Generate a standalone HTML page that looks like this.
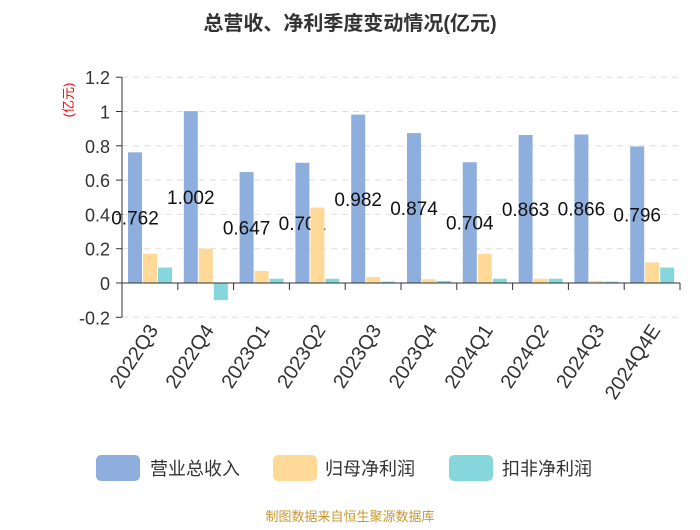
<!DOCTYPE html>
<html><head><meta charset="utf-8"><style>
body{margin:0;background:#fff;width:700px;height:525px;overflow:hidden;font-family:"Liberation Sans","Noto Sans CJK SC",sans-serif}
</style></head><body>
<svg id="chart" width="700" height="525" xmlns="http://www.w3.org/2000/svg" font-family="Liberation Sans, Noto Sans CJK SC, sans-serif">
<text x="350" y="30" text-anchor="middle" font-size="20" font-weight="bold" fill="#333">总营收、净利季度变动情况(亿元)</text>
<text transform="translate(73,100) rotate(-90)" text-anchor="middle" font-size="13" fill="#e00">(亿元)</text>
<g id="grid"></g><g id="bars1"></g><g id="labels"></g><g id="bars23"></g><g id="axes"></g>
<g>
<rect x="96" y="455" width="44" height="26" rx="5" fill="#8eaedd"/>
<text x="150" y="475" font-size="18" fill="#333">营业总收入</text>
<rect x="273" y="455" width="44" height="26" rx="5" fill="#fed998"/>
<text x="325" y="475" font-size="18" fill="#333">归母净利润</text>
<rect x="449" y="455" width="44" height="26" rx="5" fill="#86d7db"/>
<text x="502" y="475" font-size="18" fill="#333">扣非净利润</text>
</g>
<text x="350" y="521" text-anchor="middle" font-size="13" fill="#c9982f">制图数据来自恒生聚源数据库</text>
</svg>
<script>
const categories=["2022Q3","2022Q4","2023Q1","2023Q2","2023Q3","2023Q4","2024Q1","2024Q2","2024Q3","2024Q4E"];
const revenue=[0.762,1.002,0.647,0.701,0.982,0.874,0.704,0.863,0.866,0.796];
const netProfit=[0.17,0.2,0.07,0.44,0.035,0.022,0.17,0.025,0.012,0.12];
const deductedProfit=[0.09,-0.1,0.025,0.025,0.008,0.012,0.025,0.025,0.008,0.09];
const yTicks=[-0.2,0,0.2,0.4,0.6,0.8,1,1.2];
const NS="http://www.w3.org/2000/svg";
const X0=122,X1=680,Y0=283,PPU=171.5;
const bw=(X1-X0)/categories.length;
const y=v=>Y0-v*PPU;
function mk(tag,attrs,parent){const e=document.createElementNS(NS,tag);for(const k in attrs)e.setAttribute(k,attrs[k]);document.getElementById(parent).appendChild(e);return e;}
yTicks.forEach(t=>{
 if(t!==0){const g=mk('line',{x1:X0,x2:X1,y1:y(t),y2:y(t),stroke:'#ddd','stroke-dasharray':'6,5'},'grid');
 
 }
 const tl=mk('text',{x:X0-12,y:y(t)+7,'text-anchor':'end','font-size':18,fill:'#333'},'axes');tl.textContent=String(t);
 
 
 mk('line',{x1:X0-6,x2:X0,y1:y(t),y2:y(t),stroke:'#333'},'axes');
});
const ya=mk('line',{x1:X0,x2:X0,y1:y(1.2),y2:y(-0.2),stroke:'#333'},'axes');


const xa=mk('line',{x1:X0,x2:X1,y1:Y0,y2:Y0,stroke:'#333'},'axes');


const series=[[revenue,'#8eaedd','bars1','bar-revenue'],[netProfit,'#fed998','bars23','bar-net-profit'],[deductedProfit,'#86d7db','bars23','bar-deducted-profit']];
categories.forEach((c,i)=>{
 const cx=X0+i*bw;
 mk('line',{x1:cx+bw,x2:cx+bw,y1:Y0,y2:Y0+7,stroke:'#333'},'axes');
 series.forEach((s,j)=>{
  const v=s[0][i];const bx=cx+6+j*15;
  const r=mk('rect',{x:bx,y:Math.min(y(v),Y0),width:14,height:Math.abs(v)*PPU,fill:s[1]},s[2]);
  
  
 });
 const lb=mk('text',{x:cx+13,y:y(revenue[i]/2)+7,'text-anchor':'middle','font-size':19,fill:'#111'},'labels');
 lb.textContent=String(revenue[i]);
 
 
 const xl=mk('text',{transform:`translate(${cx+bw/2+9},${Y0+47}) rotate(-57)`,'text-anchor':'end','font-size':20,fill:'#333'},'axes');
 xl.textContent=c;
 
 
});
</script>
</body></html>
